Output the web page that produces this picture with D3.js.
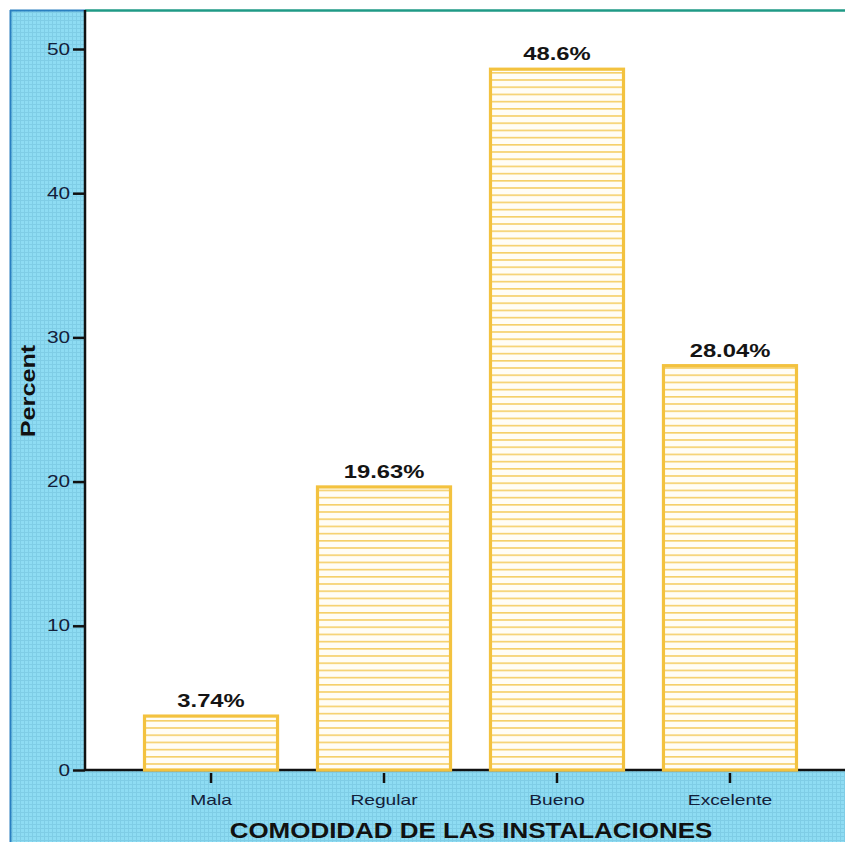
<!DOCTYPE html>
<html>
<head>
<meta charset="utf-8">
<script src="https://cdn.jsdelivr.net/npm/d3@7"></script>
<style>
  html, body { margin: 0; padding: 0; background: #ffffff; }
  svg { display: block; }
</style>
</head>
<body>
<svg id="chart" width="845" height="842"></svg>
<script>
// Comodidad de las instalaciones – percentage per rating
const categories = ["Mala", "Regular", "Bueno", "Excelente"];
const percents = [3.74, 19.63, 48.6, 28.04];
const valueLabels = ["3.74%", "19.63%", "48.6%", "28.04%"];
const yTicks = [0, 10, 20, 30, 40, 50];

const svg = d3.select("#chart");
const W = 845, H = 842;
const plot = { left: 85, top: 10, bottom: 770, right: 856 };
const FONT = "Liberation Sans, Arial, sans-serif";

// widen text horizontally (the chart uses a broad, extended sans face)
function widen(sel, factor) {
  sel.each(function () {
    const w = this.getComputedTextLength();
    d3.select(this).attr("textLength", w * factor).attr("lengthAdjust", "spacingAndGlyphs");
  });
}

const defs = svg.append("defs");

// light cyan background with a fine grid texture
const bg = defs.append("pattern")
  .attr("id", "cyanGrid").attr("patternUnits", "userSpaceOnUse")
  .attr("width", 4).attr("height", 4);
bg.append("rect").attr("width", 4).attr("height", 4).attr("fill", "#8edcf3");
bg.append("path").attr("d", "M0,0.5H4M0.5,0V4")
  .attr("stroke", "#7fcde6").attr("stroke-width", 1);

// striped bar fill
const stripes = defs.append("pattern")
  .attr("id", "barStripes").attr("patternUnits", "userSpaceOnUse")
  .attr("width", 8).attr("height", 7.2);
stripes.append("rect").attr("width", 8).attr("height", 7.2).attr("fill", "#fffdf6");
stripes.append("rect").attr("y", 0).attr("width", 8).attr("height", 1.6).attr("fill", "#f5cf68");

// outer panel
svg.append("rect").attr("x", 10).attr("y", 10).attr("width", W - 10).attr("height", H - 10)
  .attr("fill", "url(#cyanGrid)");
svg.append("line").attr("x1", 10.5).attr("x2", 10.5).attr("y1", 10).attr("y2", H)
  .attr("stroke", "#2a7fc0").attr("stroke-width", 2);
svg.append("line").attr("x1", 10).attr("x2", plot.left).attr("y1", 10.5).attr("y2", 10.5)
  .attr("stroke", "#2a7fc0").attr("stroke-width", 2);

// white plotting area
svg.append("rect").attr("x", plot.left).attr("y", plot.top)
  .attr("width", W - plot.left).attr("height", plot.bottom - plot.top)
  .attr("fill", "#ffffff");
svg.append("line").attr("x1", plot.left).attr("x2", W).attr("y1", 10.5).attr("y2", 10.5)
  .attr("stroke", "#1f9a86").attr("stroke-width", 2.5);

const x = d3.scaleBand().domain(categories)
  .range([plot.left, plot.right]).paddingInner(0.231).paddingOuter(0.344);
const y = d3.scaleLinear().domain([0, 50]).range([plot.bottom, 49]);

// y axis
const yAxis = svg.append("g").attr("transform", `translate(${plot.left},0)`)
  .call(d3.axisLeft(y).tickValues(yTicks).tickSize(12).tickPadding(3));
yAxis.select(".domain").remove();
yAxis.selectAll(".tick line").attr("stroke", "#111").attr("stroke-width", 2.5);
yAxis.selectAll(".tick text")
  .attr("font-family", FONT)
  .attr("font-size", 16).attr("fill", "#13203a")
  .call(widen, 1.3);
svg.append("line").attr("x1", plot.left).attr("x2", plot.left)
  .attr("y1", plot.top).attr("y2", plot.bottom + 1)
  .attr("stroke", "#111").attr("stroke-width", 2.5);

// x axis
const xAxis = svg.append("g").attr("transform", `translate(0,${plot.bottom})`)
  .call(d3.axisBottom(x).tickSize(13).tickPadding(11));
xAxis.select(".domain").remove();
xAxis.selectAll(".tick line").attr("stroke", "#111").attr("stroke-width", 2.5)
  .attr("y1", 3);
xAxis.selectAll(".tick text")
  .attr("font-family", FONT)
  .attr("font-size", 15).attr("fill", "#13203a")
  .call(widen, 1.28);
svg.append("line").attr("x1", plot.left).attr("x2", W)
  .attr("y1", plot.bottom).attr("y2", plot.bottom)
  .attr("stroke", "#111").attr("stroke-width", 2.5);

// bars
const bars = svg.append("g");
bars.selectAll("rect").data(percents).join("rect")
  .attr("x", (d, i) => x(categories[i]))
  .attr("y", d => y(d))
  .attr("width", x.bandwidth())
  .attr("height", d => y(0) - y(d))
  .attr("fill", "url(#barStripes)")
  .attr("stroke", "#f3c23f").attr("stroke-width", 3.2);

bars.selectAll("text").data(percents).join("text")
  .attr("x", (d, i) => x(categories[i]) + x.bandwidth() / 2)
  .attr("y", d => y(d) - 9)
  .attr("text-anchor", "middle")
  .attr("font-family", FONT)
  .attr("font-weight", "bold").attr("font-size", 18)
  .attr("fill", "#141414")
  .text((d, i) => valueLabels[i])
  .call(widen, 1.32);

// axis titles
svg.append("text")
  .attr("x", 471).attr("y", 838)
  .attr("text-anchor", "middle")
  .attr("font-family", FONT)
  .attr("font-weight", "bold").attr("font-size", 22)
  .attr("fill", "#111")
  .text("COMODIDAD DE LAS INSTALACIONES")
  .call(widen, 1.18);

svg.append("text")
  .attr("transform", "translate(35,391) rotate(-90)")
  .attr("text-anchor", "middle")
  .attr("font-family", FONT)
  .attr("font-weight", "bold").attr("font-size", 21)
  .attr("fill", "#111")
  .text("Percent")
  .call(widen, 1.2);
</script>
</body>
</html>
